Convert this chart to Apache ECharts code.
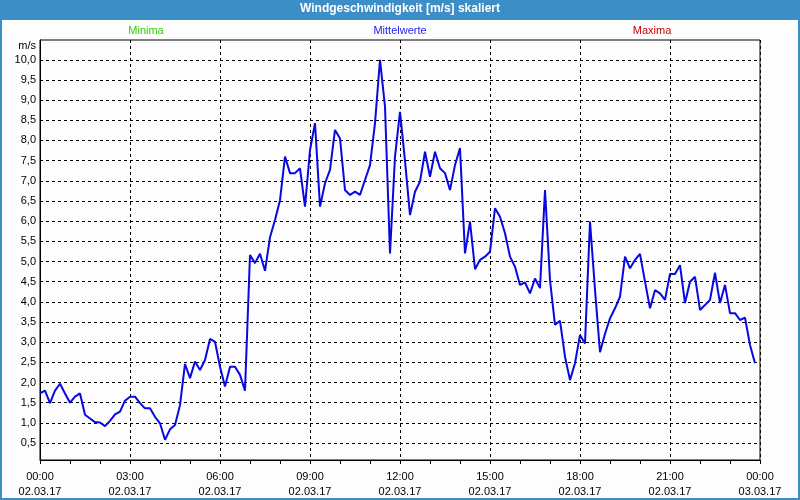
<!DOCTYPE html>
<html>
<head>
<meta charset="utf-8">
<script src="https://cdn.jsdelivr.net/npm/echarts@6/dist/echarts.min.js"></script>
<style>html,body{margin:0;padding:0;background:#fcfdfc;}#c{width:800px;height:500px;}</style>
</head>
<body>
<div id="c"></div>
<script>
// 10-minute mean wind speed [m/s], 02.03.17 00:00 .. 23:50
const mittelwerte = [
 1.73,1.80,1.49,1.80,1.97,1.73,1.50,1.65,1.73,1.20,1.11,1.02,
 1.01,0.92,1.05,1.21,1.28,1.55,1.65,1.65,1.49,1.36,1.36,1.15,
 0.99,0.58,0.84,0.95,1.44,2.46,2.11,2.52,2.31,2.56,3.08,3.01,
 2.39,1.90,2.39,2.39,2.19,1.80,5.16,4.96,5.19,4.77,5.60,6.03,
 6.52,7.60,7.19,7.19,7.31,6.36,7.76,8.43,6.36,6.94,7.27,8.26,
 8.05,6.77,6.65,6.73,6.65,7.02,7.39,8.43,10.0,8.84,5.20,7.60,
 8.71,7.50,6.15,6.73,6.98,7.72,7.10,7.72,7.31,7.19,6.77,7.39,
 7.81,5.20,5.99,4.81,5.04,5.12,5.24,6.32,6.11,5.70,5.12,4.87,
 4.42,4.48,4.21,4.58,4.34,6.77,4.54,3.43,3.53,2.64,2.06,2.48,
 3.18,2.97,5.99,4.30,2.75,3.21,3.59,3.84,4.13,5.12,4.83,5.04,
 5.19,4.50,3.84,4.29,4.21,4.05,4.69,4.69,4.91,3.97,4.50,4.62,
 3.80,3.92,4.05,4.72,3.97,4.42,3.72,3.72,3.55,3.61,2.93,2.48
];
const stepMinutes = 10;
const yTickValues = [0.5,1,1.5,2,2.5,3,3.5,4,4.5,5,5.5,6,6.5,7,7.5,8,8.5,9,9.5,10];
const xTickHours = [0,3,6,9,12,15,18,21,24];
const dateLabels = ['02.03.17','03.03.17'];
const titleText = 'Windgeschwindigkeit [m/s] skaliert';
const headerLabels = ['Minima','Mittelwerte','Maxima'];

const seriesData = mittelwerte.map((v, i) => [i * stepMinutes / 60, v]);
const FONT = 'Liberation Sans';

const chart = echarts.init(document.getElementById('c'), null, {renderer: 'canvas'});
chart.setOption({
  animation: false,
  backgroundColor: '#fcfdfc',
  graphic: [
    {type: 'rect', shape: {x: 0, y: 0, width: 800, height: 20}, style: {fill: '#3c8fc6'}, z: -1},
    {type: 'rect', shape: {x: 1, y: 1, width: 798, height: 498}, style: {fill: null, stroke: '#3c8fc6', lineWidth: 2}, z: -1}
  ],
  title: [
    {text: titleText, left: 'center', top: 3, textStyle: {color: '#ffffff', fontFamily: FONT, fontWeight: 'bold', fontSize: 12}, padding: 0},
    {text: headerLabels[0], left: 146, top: 25, textAlign: 'center', textStyle: {color: '#33cc00', fontFamily: FONT, fontWeight: 'normal', fontSize: 11}, padding: 0},
    {text: headerLabels[1], left: 400, top: 25, textAlign: 'center', textStyle: {color: '#2222ee', fontFamily: FONT, fontWeight: 'normal', fontSize: 11}, padding: 0},
    {text: headerLabels[2], left: 652, top: 25, textAlign: 'center', textStyle: {color: '#cc0000', fontFamily: FONT, fontWeight: 'normal', fontSize: 11}, padding: 0},
    {text: 'm/s', right: 764, top: 40, textStyle: {color: '#000', fontFamily: FONT, fontWeight: 'normal', fontSize: 11}, padding: 0}
  ],
  grid: {left: 40, right: 40, top: 40, bottom: 40, show: true, borderColor: '#000', borderWidth: 1, backgroundColor: 'transparent'},
  xAxis: {
    type: 'value', min: 0, max: 24, interval: 3,
    axisLine: {show: true, lineStyle: {color: '#000', width: 1}},
    axisTick: {show: true, length: 4, lineStyle: {color: '#000'}},
    minorTick: {show: true, splitNumber: 3, length: 4, lineStyle: {color: '#000'}},
    splitLine: {show: true, lineStyle: {color: '#000', type: [3, 3], width: 1}},
    axisLabel: {
      color: '#000', fontFamily: FONT, fontSize: 11, margin: 9, lineHeight: 15,
      showMinLabel: true, showMaxLabel: true,
      formatter: function (v) {
        if (xTickHours.indexOf(v) < 0) return '';
        const h = v % 24;
        const d = v >= 24 ? dateLabels[1] : dateLabels[0];
        return (h < 10 ? '0' + h : '' + h) + ':00\n' + d;
      }
    }
  },
  yAxis: {
    type: 'value', min: 0.08, max: 10.49,
    axisLine: {show: true, lineStyle: {color: '#000', width: 1}},
    axisTick: {show: false, customValues: yTickValues},
    splitLine: {show: true, lineStyle: {color: '#000', type: [3, 3], width: 1}},
    axisLabel: {
      customValues: yTickValues,
      color: '#000', fontFamily: FONT, fontSize: 11, margin: 4,
      formatter: function (v) { return v.toFixed(1).replace('.', ','); }
    }
  },
  series: [{
    name: headerLabels[1], type: 'line', data: seriesData, showSymbol: false,
    lineStyle: {color: '#0808e0', width: 2}, itemStyle: {color: '#0808e0'}
  }]
});
</script>
</body>
</html>
